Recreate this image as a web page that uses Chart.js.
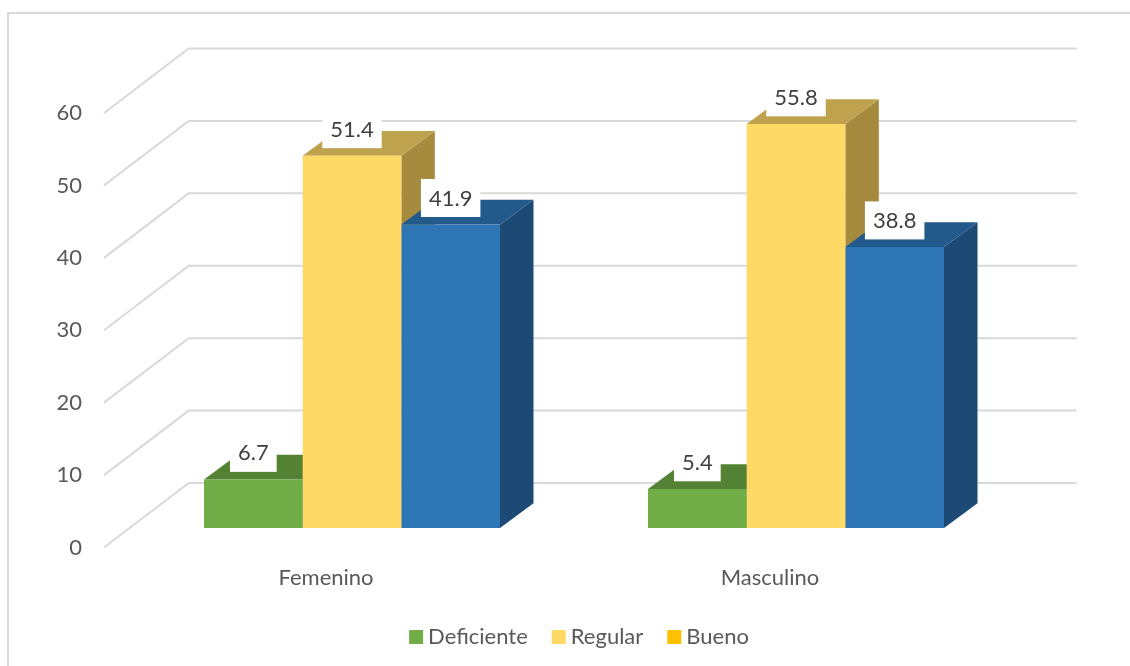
<!DOCTYPE html>
<html lang="es">
<head>
<meta charset="utf-8">
<title>Deficiente, Regular, Bueno por sexo</title>
<script src="https://cdn.jsdelivr.net/npm/chart.js@4/dist/chart.umd.min.js"></script>
<style>
  html, body { margin: 0; padding: 0; background: #fff; }
  #frame { position: absolute; left: 7px; top: 12px; right: 0; bottom: 0;
           border-left: 2px solid #D9D9D9; border-top: 2px solid #D9D9D9; }
  canvas { position: absolute; left: 0; top: 0; }
</style>
</head>
<body>
<div id="frame"></div>
<canvas id="chart" width="1130" height="666"></canvas>
<script>
const categories = ['Femenino', 'Masculino'];
const seriesNames = ['Deficiente', 'Regular', 'Bueno'];
const deficiente = [6.7, 5.4];
const regular = [51.4, 55.8];
const bueno = [41.9, 38.8];

const frontColors = ['#70AD47', '#FFD966', '#2E75B6'];
const topColors = ['#548235', '#BFA24D', '#225A8C'];
const sideColors = ['#44692B', '#A68B3E', '#1C4A75'];
const legendColors = ['#70AD47', '#FFD966', '#FFC000'];

const FONT = 'Lato, "Open Sans", sans-serif';
const FONT_SIZE = 22;
const TEXT = '#595959';
const DEPTH_X = 33.5, DEPTH_Y = 24.7;

// Side wall and back wall rules, one for each axis tick.
const wallPlugin = {
  id: 'walls',
  beforeDatasetsDraw(chart) {
    const { ctx, scales: { y }, chartArea: area } = chart;
    const x0 = area.left - 26, x1 = area.left + 58.7, xEnd = area.left + 946.7;
    ctx.save();
    ctx.strokeStyle = '#D9D9D9';
    ctx.lineWidth = 2;
    y.ticks.forEach(t => {
      const p = y.getPixelForValue(t.value);
      ctx.beginPath();
      ctx.moveTo(x0, p + 19.5);
      ctx.lineTo(x1, p - 45);
      ctx.lineTo(xEnd, p - 45);
      ctx.stroke();
    });
    ctx.restore();
  }
};

// Top and side faces of each bar, painted left to right under the front faces.
const depthPlugin = {
  id: 'depth',
  beforeDatasetsDraw(chart) {
    const { ctx } = chart;
    const poly = (pts, color) => {
      ctx.fillStyle = color;
      ctx.beginPath();
      pts.forEach((p, i) => i ? ctx.lineTo(p[0], p[1]) : ctx.moveTo(p[0], p[1]));
      ctx.closePath();
      ctx.fill();
    };
    categories.forEach((_, i) => {
      chart.data.datasets.forEach((ds, d) => {
        const bar = chart.getDatasetMeta(d).data[i];
        const half = bar.width / 2;
        const l = bar.x - half, r = bar.x + half, t = bar.y, b = bar.base;
        poly([[r, t], [r + DEPTH_X, t - DEPTH_Y], [r + DEPTH_X, b - DEPTH_Y], [r, b]], sideColors[d]);
        poly([[l, t], [r, t], [r + DEPTH_X, t - DEPTH_Y], [l + DEPTH_X, t - DEPTH_Y]], topColors[d]);
      });
    });
  }
};

// Value captions on white plates above each bar.
const valuePlugin = {
  id: 'values',
  afterDatasetsDraw(chart) {
    const { ctx } = chart;
    ctx.save();
    ctx.font = FONT_SIZE + 'px ' + FONT;
    ctx.textAlign = 'center';
    ctx.textBaseline = 'middle';
    chart.data.datasets.forEach((ds, d) => {
      chart.getDatasetMeta(d).data.forEach((bar, i) => {
        const text = ds.data[i].toFixed(1);
        const w = ctx.measureText(text).width + 16;
        const bottom = bar.y - 7.6;
        ctx.fillStyle = '#FFFFFF';
        ctx.fillRect(bar.x - w / 2, bottom - 38, w, 38);
        ctx.fillStyle = '#404040';
        ctx.fillText(text, bar.x, bottom - 18.5);
      });
    });
    ctx.restore();
  }
};

// Moves the legend row to its place below the category labels.
const legendPlacement = {
  id: 'legendPlacement',
  afterLayout(chart) {
    chart.legend.left += 8;
    chart.legend.right += 8;
    chart.legend.top -= 8;
    chart.legend.bottom -= 8;
  }
};

new Chart(document.getElementById('chart'), {
  type: 'bar',
  data: {
    labels: categories,
    datasets: [deficiente, regular, bueno].map((values, d) => ({
      label: seriesNames[d],
      data: values,
      backgroundColor: frontColors[d],
      categoryPercentage: 2 / 3,
      barPercentage: 1
    }))
  },
  options: {
    responsive: false,
    animation: false,
    layout: { padding: { left: 29, right: 112, top: 93.5, bottom: 0 } },
    scales: {
      x: {
        grid: { display: false, drawTicks: false },
        border: { display: false },
        ticks: { color: TEXT, font: { family: FONT, size: FONT_SIZE }, padding: 37, labelOffset: -26, maxRotation: 0 },
        afterFit: s => { s.height = 76; }
      },
      y: {
        min: 0,
        max: 60,
        grid: { display: false, drawTicks: false },
        border: { display: false },
        ticks: { stepSize: 10, color: TEXT, font: { family: FONT, size: FONT_SIZE }, padding: 48, labelOffset: 19.5 },
        afterFit: s => { s.width = 101; }
      }
    },
    plugins: {
      tooltip: { enabled: false },
      legend: {
        position: 'bottom',
        fullSize: false,
        labels: {
          color: TEXT,
          font: { family: FONT, size: FONT_SIZE },
          boxWidth: 2,
          boxHeight: 2,
          padding: 30,
          generateLabels: () => seriesNames.map((name, d) => ({
            text: name,
            fillStyle: legendColors[d],
            strokeStyle: legendColors[d],
            lineWidth: 12,
            fontColor: TEXT,
            datasetIndex: d
          }))
        }
      }
    }
  },
  plugins: [wallPlugin, depthPlugin, valuePlugin, legendPlacement]
});
</script>
</body>
</html>
